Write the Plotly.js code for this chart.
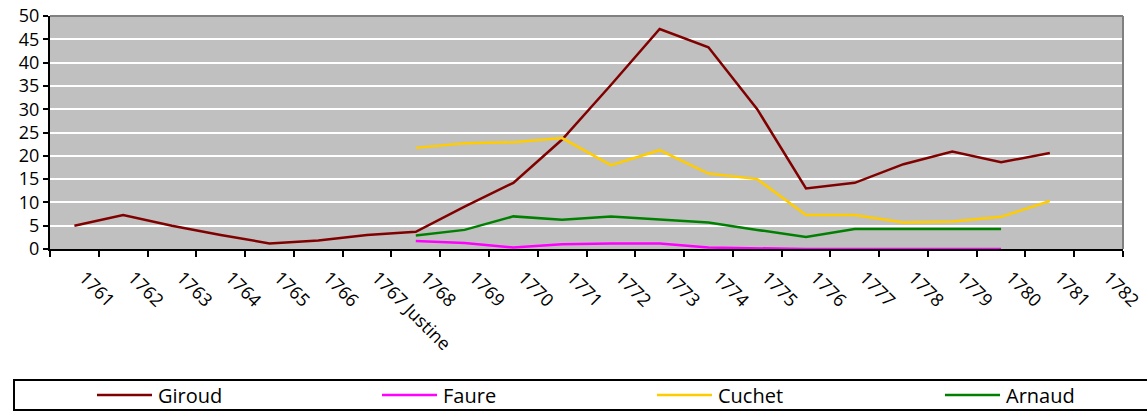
<!DOCTYPE html>
<html>
<head>
<meta charset="utf-8">
<script src="https://cdn.plot.ly/plotly-3.0.1.min.js"></script>
<style>html,body{margin:0;padding:0;background:#fff;}#chart{width:1147px;height:412px;}</style>
</head>
<body>
<div id="chart"></div>
<script>
const categories = ["1761","1762","1763","1764","1765","1766","1767 Justine","1768","1769","1770","1771","1772","1773","1774","1775","1776","1777","1778","1779","1780","1781","1782"];
const giroud = [5.0, 7.3, 5.0, 3.0, 1.2, 1.8, 3.0, 3.7, 9.1, 14.2, 23.5, 35.2, 47.2, 43.3, 30.0, 13.0, 14.2, 18.2, 20.9, 18.6, 20.6, null];
const faure  = [null, null, null, null, null, null, null, 1.7, 1.3, 0.3, 1.0, 1.2, 1.2, 0.3, 0.1, 0, 0, 0, 0, 0, null, null];
const cuchet = [null, null, null, null, null, null, null, 21.7, 22.7, 22.9, 23.8, 18.0, 21.2, 16.2, 15.0, 7.3, 7.3, 5.7, 5.9, 6.9, 10.3, null];
const arnaud = [null, null, null, null, null, null, null, 2.9, 4.1, 7.0, 6.3, 7.0, 6.3, 5.7, 4.1, 2.6, 4.3, 4.3, 4.3, 4.3, null, null];
const yTicks = [0,5,10,15,20,25,30,35,40,45,50];
const seriesNames = ["Giroud", "Faure", "Cuchet", "Arnaud"];
const seriesColors = ["#800000", "#FF00FF", "#FFCC00", "#008000"];
const seriesValues = [giroud, faure, cuchet, arnaud];

const FONT = "Open Sans, Liberation Sans, sans-serif";
const data = seriesNames.map((n, i) => ({
  x: categories, y: seriesValues[i], name: n, type: "scatter", mode: "lines",
  line: {color: seriesColors[i], width: 2.5}, connectgaps: false, hoverinfo: "skip"
}));

const W = 1147, H = 412, L = 50, R = 24, T = 16, B = 163;
const pw = W - L - R, ph = H - T - B;
function px2x(x){ return (x - L) / pw; }
function px2y(y){ return (H - B - y) / ph; }

// manual legend (box, line samples, labels)
const legendLineX = [97, 382, 657, 945];
const legendY = 395;
const shapes = [
  {type: "line", xref: "paper", yref: "paper", x0: 0, x1: 1, y0: 1, y1: 1, line: {color: "#808080", width: 2}},
  {type: "line", xref: "paper", yref: "paper", x0: 1, x1: 1, y0: 0, y1: 1, line: {color: "#808080", width: 2}},
  {type: "rect", xref: "paper", yref: "paper", x0: px2x(14), x1: px2x(1149), y0: px2y(380), y1: px2y(410), line: {color: "#000", width: 2}, fillcolor: "rgba(0,0,0,0)"}
];
const annotations = [];
seriesNames.forEach((n, i) => {
  const x0 = legendLineX[i];
  shapes.push({type: "line", xref: "paper", yref: "paper", x0: px2x(x0), x1: px2x(x0 + 55),
    y0: px2y(legendY), y1: px2y(legendY), line: {color: seriesColors[i], width: 2.5}});
  annotations.push({xref: "paper", yref: "paper", x: px2x(x0 + 59), y: px2y(legendY),
    xanchor: "left", yanchor: "middle", text: n, showarrow: false,
    font: {family: FONT, size: 20, color: "#000"}});
});

const layout = {
  width: W, height: H,
  margin: {l: L, r: R, t: T, b: B, pad: 0},
  paper_bgcolor: "#ffffff",
  plot_bgcolor: "#C0C0C0",
  font: {family: FONT, size: 18, color: "#000"},
  showlegend: false,
  xaxis: {
    type: "category", range: [-0.5, 21.5], fixedrange: true, automargin: false,
    tickson: "boundaries", ticks: "outside", ticklen: 6, tickwidth: 2, tickcolor: "#000",
    showline: true, linecolor: "#000", linewidth: 2,
    showgrid: false, zeroline: false,
    tickangle: 45, ticklabelstandoff: 9, ticklabelshift: 10,
    tickfont: {family: FONT, size: 18, color: "#000"}
  },
  yaxis: {
    range: [0, 50], fixedrange: true, automargin: false,
    tickmode: "array", tickvals: yTicks, ticktext: yTicks.map(String),
    ticks: "outside", ticklen: 5, tickwidth: 2, tickcolor: "#000",
    showline: true, linecolor: "#000", linewidth: 2,
    showgrid: true, gridcolor: "#ffffff", gridwidth: 2,
    zeroline: false,
    tickfont: {family: FONT, size: 18, color: "#000"}
  },
  shapes: shapes,
  annotations: annotations
};
Plotly.newPlot("chart", data, layout, {displayModeBar: false, staticPlot: true});
</script>
</body>
</html>
